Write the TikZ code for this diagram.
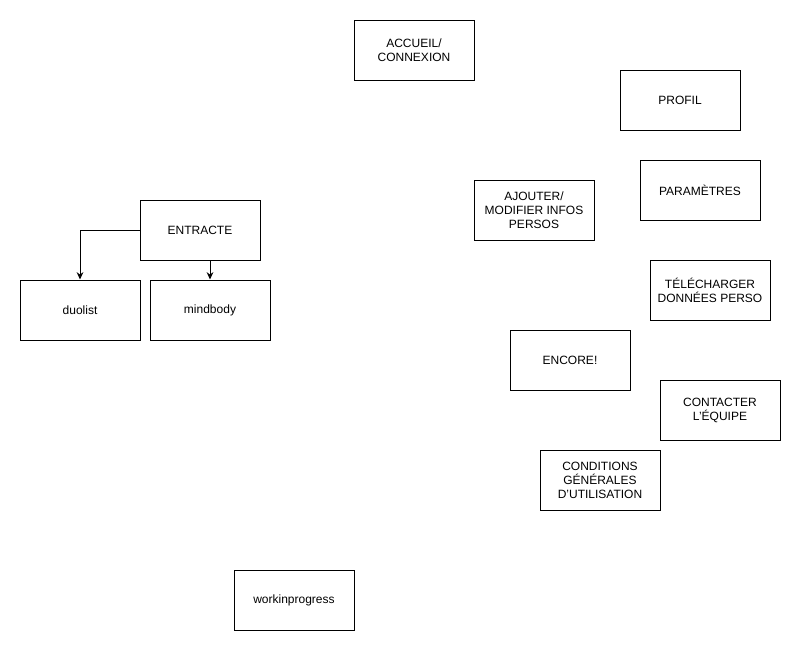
\documentclass[tikz,border=0pt]{standalone}
\usepackage{fontspec}
\setmainfont{Liberation Sans}
\usetikzlibrary{arrows.meta}
\begin{document}
\begin{tikzpicture}[x=0.75pt,y=-0.75pt,>={Stealth[length=5.5pt,width=5pt]},
  every node/.style = {shape=rectangle, draw, line width=0.75pt, align=center, fill=white,
    minimum width=90pt, minimum height=45pt, inner sep=1pt,
    font=\fontsize{9}{10.5}\selectfont}]

  \useasboundingbox (0,0) rectangle (801,651);

  \node (accueil) at (414,50) {ACCUEIL/\\CONNEXION};
  \node (profil) at (680,100) {PROFIL};
  \node (parametres) at (700,190) {PARAMÈTRES};
  \node (ajouter) at (534,210) {AJOUTER/\\MODIFIER INFOS\\PERSOS};
  \node (entracte) at (200,230) {ENTRACTE};
  \node (duolist) at (80,310) {duolist};
  \node (mindbody) at (210,310) {mindbody};
  \node (telecharger) at (710,290) {TÉLÉCHARGER\\DONNÉES PERSO};
  \node (encore) at (570,360) {ENCORE!};
  \node (contacter) at (720,410) {CONTACTER\\L'ÉQUIPE};
  \node (conditions) at (600,480) {CONDITIONS\\GÉNÉRALES\\D'UTILISATION};
  \node (wip) at (294,600) {workinprogress};

  \draw[->, line width=0.75pt] (entracte.west) -| (duolist.north);
  \draw[->, line width=0.75pt] (mindbody.north |- entracte.south) -- (mindbody.north);
\end{tikzpicture}
\end{document}
